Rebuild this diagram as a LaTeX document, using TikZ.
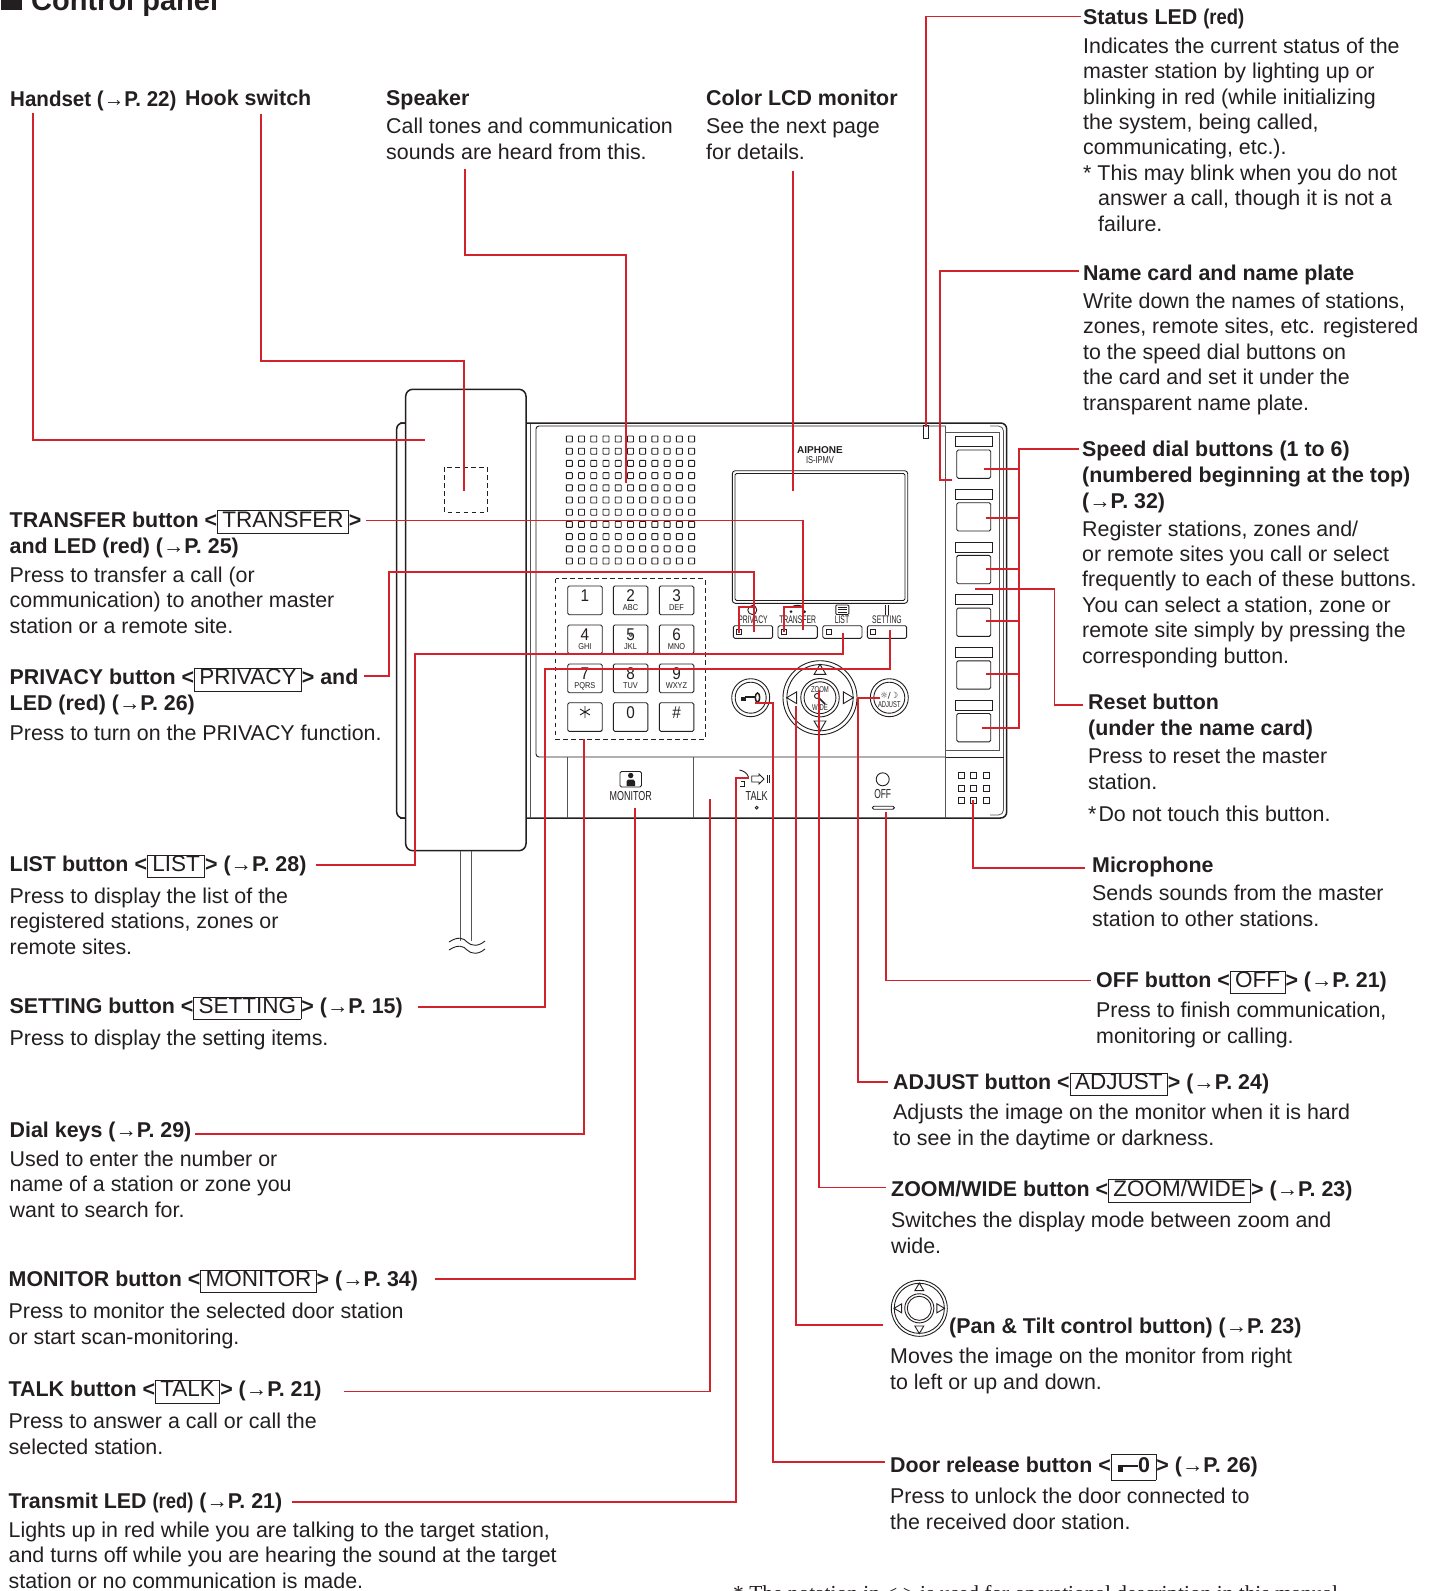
\documentclass[tikz,border=0pt]{standalone}
\usepackage{fontspec}
\usepackage{graphicx}
\setmainfont{Liberation Sans}
\newfontfamily\djfont{DejaVu Sans}
\newfontfamily\serifnote{Liberation Serif}
\definecolor{ink}{HTML}{231F20}
\definecolor{leadred}{HTML}{D2232D}
\definecolor{devgray}{HTML}{555555}
\newcommand\Ar{{\mdseries →}}
\newcommand\Nr[2][.86]{\scalebox{#1}[1]{#2}}
\newcommand\kb[1]{{\setlength\fboxsep{0pt}\setlength\fboxrule{.8pt}\fbox{\hspace{4.5pt}\mdseries\fontsize{22.5}{22.5}\selectfont\rule[-6pt]{0pt}{20pt}#1\hspace{4.5pt}}}}
\newcommand\cond[3]{\scalebox{#1}[1]{\fontsize{#2}{#2}\selectfont #3}}
\tikzset{
  lead/.style={draw=leadred,line width=1.9pt},
  dev/.style={draw=ink,line width=.9pt},
  devthin/.style={draw=devgray,line width=.8pt},
  devthick/.style={draw=ink,line width=1.5pt},
  devdash/.style={draw=ink,line width=.9pt,dash pattern=on 4.5pt off 3.5pt},
  body/.style={inner sep=0pt,anchor=base west,align=left,text=ink,font=\fontsize{21.4}{25.4}\selectfont},
  ttl/.style={inner sep=0pt,anchor=base west,align=left,text=ink,font=\fontsize{21.4}{26}\selectfont\bfseries},
  small/.style={inner sep=0pt,text=ink,anchor=base},
}
\newcommand\Key[5]{%
  \draw[dev,rounded corners=1.5pt] (#2,#3) rectangle ++(34.5,28.7);
  \node[small] (key#1) at ({#2+17.2},{#3+15.7}) {\cond{.9}{17}{#4}};
  \node[small] (sub#1) at ({#2+17.2},{#3+24.7}) {\cond{.87}{8.5}{#5}};
}
\newcommand\Ring[3]{%
  \draw[dev] (#1,#2) circle[radius=#3*1pt];
  \draw[dev] (#1,#2) circle[radius=#3*.895pt];
  \draw[dev] (#1,#2) circle[radius=#3*.52pt];
  \draw[dev] (#1,#2) circle[radius=#3*.43pt];
  \draw[dev] ({#1-#3*.16},{#2-#3*.63}) -- ({#1+#3*.16},{#2-#3*.63}) -- ({#1},{#2-#3*.9}) -- cycle;
  \draw[dev] ({#1-#3*.16},{#2+#3*.63}) -- ({#1+#3*.16},{#2+#3*.63}) -- ({#1},{#2+#3*.9}) -- cycle;
  \draw[dev] ({#1-#3*.63},{#2-#3*.16}) -- ({#1-#3*.63},{#2+#3*.16}) -- ({#1-#3*.9},{#2}) -- cycle;
  \draw[dev] ({#1+#3*.63},{#2-#3*.16}) -- ({#1+#3*.63},{#2+#3*.16}) -- ({#1+#3*.9},{#2}) -- cycle;
}
\begin{document}
\begin{tikzpicture}[x=1pt,y=-1pt]
\clip (0,0) rectangle (1432,1591);
\fill[white] (0,0) rectangle (1432,1591);
%% ---------- device ----------
\draw[devthick,rounded corners=6pt] (400,423) -- (1006.7,423) -- (1006.7,818) -- (400,818);
\draw[devthick,rounded corners=6pt] (410,423) -- (396.7,423) -- (396.7,818) -- (410,818);
\draw[devthin,rounded corners=5pt] (990,426) -- (1003.5,426) -- (1003.5,815) -- (990,815);
\draw[devthin] (530.7,424) -- (530.7,818);
\draw[dev,rounded corners=3pt] (945.7,426) -- (536,426) -- (536,757) -- (945.7,757);
\draw[devthin] (945.7,426) -- (945.7,818);
\draw[devthin] (567.7,757) -- (567.7,818);
\draw[devthin] (693.7,757) -- (693.7,818);
\draw[dev] (945.7,757) -- (1003.5,757);
\draw[devthin] (945.7,432.7) -- (999.3,432.7) -- (999.3,750) -- (945.7,750);
% handset
\draw[devthick,fill=white,rounded corners=7pt] (405.7,389.3) rectangle (526,850.7);
\draw[devthin] (460,851) -- (460,941);
\draw[devthin] (471.7,851) -- (471.7,941);
\draw[dev] (449,942) .. controls (458,936) and (464,938) .. (467,942) .. controls (471,946) and (478,947) .. (485,941);
\draw[dev] (449,950) .. controls (458,944) and (464,946) .. (467,950) .. controls (471,954) and (478,955) .. (485,949);
\draw[devdash] (444.3,467.3) rectangle (487.3,512);
% speaker
\foreach \i in {0,...,10} \foreach \j in {0,...,10}
  \draw[dev,rounded corners=.6pt] ({566.3+\i*12.23},{436+\j*12.2}) rectangle ++(6,6);
% keypad
\draw[devdash] (555.7,578.7) rectangle (705,739);
\Key{1}{567.7}{586}{1}{}
\Key{2}{613.3}{586}{2}{ABC}
\Key{3}{659.3}{586}{3}{DEF}
\Key{4}{567.7}{625}{4}{GHI}
\Key{5}{613.3}{625}{5}{JKL}
\Key{6}{659.3}{625}{6}{MNO}
\Key{7}{567.7}{664}{7}{PQRS}
\Key{8}{613.3}{664}{8}{TUV}
\Key{9}{659.3}{664}{9}{WXYZ}
\Key{star}{567.7}{702.7}{}{}
\Key{0}{613.3}{702.7}{0}{}
\Key{h}{659.3}{702.7}{\#}{}
\draw[dev] (585,706) -- (585,718) (580,709) -- (590,715) (590,709) -- (580,715);
\draw[devthin] (630.7,635) circle[radius=1.5pt];
% LCD
\draw[dev,rounded corners=3pt] (732.3,470.7) rectangle (907.7,603.3);
\draw[dev,rounded corners=1.5pt] (735,473.5) rectangle (905,600.5);
\node[small] (brand) at (820,453.3) {\fontsize{10}{10}\selectfont\bfseries AIPHONE};
\node[small] (model) at (820,463) {\cond{.75}{10}{IS-IPMV}};
% status LED
\draw[dev] (923.3,425) rectangle (928.7,438);
% function buttons
\foreach \x in {733.3,778,822.7,867.3}{
  \draw[dev,rounded corners=1.5pt] (\x,625.7) rectangle ++(39.3,12.6);
  \draw[dev] ({\x+3.5},629.5) rectangle ++(5,5);
}
\node[small] (fprivacy) at (753,623) {\cond{.62}{11}{PRIVACY}};
\node[small] (ftransfer) at (797.7,623) {\cond{.62}{11}{TRANSFER}};
\node[small] (flist) at (842,623) {\cond{.62}{11}{LIST}};
\node[small] (fsetting) at (887,623) {\cond{.62}{11}{SETTING}};
\draw[dev] (752.3,610) circle[radius=4.5pt];
\fill[ink] (791,611.7) circle[radius=1.5pt] (804.7,611.7) circle[radius=1.5pt];
\draw[dev] (791,607) .. controls (796,604.5) and (800,605) .. (804,607);
\draw[dev,rounded corners=1pt] (835.8,605) rectangle ++(13,9.5);
\draw[dev] (837.5,607.5) -- (847,607.5) (837.5,609.7) -- (847,609.7) (837.5,612) -- (847,612);
\draw[dev] (885,605) -- (885,614.5) (888.5,605) -- (888.5,614.5);
% right plates
\foreach \k in {0,...,5}{
  \draw[dev] (955.3,{436.7+\k*52.7}) rectangle ++(37,10);
  \draw[dev,rounded corners=1.5pt] (956.7,{450+\k*52.7}) rectangle ++(34,28.3);
}
% centre ring
\Ring{820}{697.7}{37}
\node[small] (fzoom) at (820,692) {\cond{.7}{8.5}{ZOOM}};
\node[small] (fwide) at (820,710) {\cond{.7}{8.5}{WIDE}};
\draw[dev] (817,696) circle[radius=2.5pt];
\draw[draw=ink,line width=1.5pt] (819,698) -- (825,704);
% door release
\draw[dev] (750.7,697.7) circle[radius=19pt];
\draw[dev] (750.7,697.7) circle[radius=15.5pt];
\fill[ink] (741,696.5) rectangle (745.5,700.5);
\draw[devthick] (745,697) -- (755,697);
\draw[devthick] (757.5,697.5) ellipse[x radius=2.2pt,y radius=4.5pt];
% adjust
\draw[dev] (889.3,697.7) circle[radius=19pt];
\draw[dev] (889.3,697.7) circle[radius=15.5pt];
\node[small] (fsun) at (889.3,698) {\fontsize{8.5}{8.5}\djfont ☼/☽};
\node[small] (fadjust) at (889.3,707) {\cond{.68}{8.5}{ADJUST}};
% monitor
\draw[dev,rounded corners=1.5pt] (620,771.5) rectangle (641.5,787);
\fill[ink] (630.7,775.5) circle[radius=2.7pt];
\fill[ink] (626.5,786) -- (626.5,781.5) -- (628,779.5) -- (633.5,779.5) -- (635,781.5) -- (635,786) -- cycle;
\node[small] (fmonitor) at (630.7,800) {\cond{.69}{13}{MONITOR}};
% talk
\node[small] (ftalk) at (756.7,800) {\cond{.7}{13}{TALK}};
\draw[dev] (756.7,807.7) circle[radius=1.4pt];
\draw[dev] (739.5,770) .. controls (744,771) and (747,773) .. (748.5,777);
\draw[dev] (741,781) -- (744,781) -- (744,786) -- (740,786);
\draw[dev] (751.7,776) -- (759,776) -- (759,774) -- (764,779) -- (759,784) -- (759,782) -- (751.7,782) -- cycle;
\draw[dev] (767,775) -- (767,783) (769.5,775) -- (769.5,783);
\draw[draw=ink,line width=1.5pt] (773,772) -- (773,786);
% off
\draw[dev] (882.7,779.3) circle[radius=6.5pt];
\node[small] (foff) at (882.7,798.5) {\cond{.65}{13}{OFF}};
\draw[dev,rounded corners=1.4pt] (872.3,806.2) rectangle (894.3,809.2);
% microphone
\foreach \x in {958.7,970.7,983} \foreach \y in {772.7,785,797}
  \draw[dev] (\x,\y) rectangle ++(6,6);
%% ---------- pan tilt legend ----------
\Ring{919.3}{1308.3}{28}
%% ---------- connectors ----------
\coordinate (handsetS) at (33,113); \coordinate (handsetE) at (425,440.3);
\draw[lead] (handsetS) |- (handsetE);
\coordinate (hookS) at (261,114); \coordinate (hookE) at (464,490.7);
\draw[lead] (hookS) -- (hookS |- 0,361) -| (hookE);
\coordinate (speakerS) at (465,168.5); \coordinate (speakerE) at (626,483);
\draw[lead] (speakerS) -- (speakerS |- 0,254.7) -| (speakerE);
\coordinate (lcdS) at (793.3,170.5); \coordinate (lcdE) at (793.3,491);
\draw[lead] (lcdS) -- (lcdE);
\coordinate (statusS) at (1081,16.5); \coordinate (statusE) at (926,426.7);
\draw[lead] (statusS) -| (statusE);
\coordinate (cardS) at (1079,271); \coordinate (cardE) at (952,480);
\draw[lead] (cardS) -- (940,271) |- (cardE);
\coordinate (speedS) at (1079,448.6); \coordinate (speed6) at (981.7,727.7);
\draw[lead] (speedS) -- (1019.3,448.6) |- (speed6);
\coordinate (speed1) at (984.3,468.7); \coordinate (speed2) at (986,517.7); \coordinate (speed3) at (986,569.3); \coordinate (speed4) at (986,621); \coordinate (speed5) at (986,674.3);
\foreach \n in {speed1,speed2,speed3,speed4,speed5} \draw[lead] (1019.3,0 |- \n) -- (\n);
\coordinate (resetS) at (1083,704.6); \coordinate (resetE) at (975.3,589);
\draw[lead] (resetS) -- (1054.5,704.6) |- (resetE);
\coordinate (micS) at (1085,868); \coordinate (micE) at (973.3,800);
\draw[lead] (micS) -| (micE);
\coordinate (offS) at (1091,980.5); \coordinate (offE) at (886,811.7);
\draw[lead] (offS) -| (offE);
\coordinate (adjS) at (888,1082); \coordinate (adjE) at (880,698.3);
\draw[lead] (adjS) -- (858,1082) |- (adjE);
\coordinate (zoomS) at (886,1187.5); \coordinate (zoomE) at (819.3,690);
\draw[lead] (zoomS) -| (zoomE);
\coordinate (panS) at (883,1325); \coordinate (panE) at (795.7,706);
\draw[lead] (panS) -| (panE);
\coordinate (doorS) at (885,1462.3); \coordinate (doorE) at (755,702.7);
\draw[lead] (doorS) -- (773.3,1462.3) |- (doorE);
\coordinate (txS) at (292,1502); \coordinate (txE) at (749,778.3);
\draw[lead] (txS) -- (735.7,1502) |- (txE);
\coordinate (talkS) at (344,1391.5); \coordinate (talkE) at (710,799.3);
\draw[lead] (talkS) -| (talkE);
\coordinate (monS) at (435,1279); \coordinate (monE) at (635.3,807.7);
\draw[lead] (monS) -| (monE);
\coordinate (dialS) at (195,1133.7); \coordinate (dialE) at (583.7,739);
\draw[lead] (dialS) -| (dialE);
\coordinate (setS) at (418,1007); \coordinate (setE) at (890,630);
\draw[lead] (setS) -- (544.7,1007) |- (890,669.3) -- (setE);
\coordinate (listS) at (315.6,864.7); \coordinate (listE) at (842.7,633.3);
\draw[lead] (listS) -- (415,864.7) |- (842.7,654) -- (listE);
\coordinate (privS) at (364.4,676); \coordinate (privE) at (754.3,632.3); \coordinate (privL) at (739.3,632.7);
\draw[lead] (privS) -- (389,676) |- (754.3,572.3) -- (privE);
\draw[lead] (754.3,606.7) -| (privL);
\coordinate (transS) at (366.4,520.5); \coordinate (transE) at (803.3,630); \coordinate (transL) at (784,632);
\draw[lead] (transS) -| (transE);
\draw[lead] (803.3,606.7) -| (transL);
%% ---------- labels ----------
\fill[ink] (1,-8) rectangle (22,10);
\node[ttl,font=\fontsize{29}{29}\selectfont\bfseries] (title) at (31,10) {Control panel};
\node[ttl] (handsetT) at (10,106.7) {\Nr[.96]{Handset (\Ar P. 22)}};
\node[ttl] (hookT) at (185,105) {Hook switch};
\node[ttl] (speakerT) at (386,105) {Speaker};
\node[body] (speakerD) at (386,159) {Call tones and communication\\sounds are heard from this.};
\node[ttl] (lcdT) at (706,105) {Color LCD monitor};
\node[body] (lcdD) at (706,159) {See the next page\\for details.};
\node[ttl] (statusT) at (1083,24.5) {Status LED \Nr{(red)}};
\node[body] (statusD) at (1083,231) {Indicates the current status of the\\master station by lighting up or\\blinking in red (while initializing\\the system, being called,\\communicating, etc.).\\* This may blink when you do not\\\hspace*{15pt}answer a call, though it is not a\\\hspace*{15pt}failure.};
\node[ttl] (cardT) at (1083,280) {Name card and name plate};
\node[body] (cardD) at (1083,410) {Write down the names of stations,\\zones, remote sites, etc. registered\\to the speed dial buttons on\\the card and set it under the\\transparent name plate.};
\node[ttl] (speedT) at (1082,508) {Speed dial buttons (1 to 6)\\(numbered beginning at the top)\\(\Ar P. 32)};
\node[body] (speedD) at (1082,663) {Register stations, zones and/\\or remote sites you call or select\\frequently to each of these buttons.\\You can select a station, zone or\\remote site simply by pressing the\\corresponding button.};
\node[ttl] (resetT) at (1088,735) {Reset button\\(under the name card)};
\node[body] (resetD) at (1088,789) {Press to reset the master\\station.};
\node[body] (resetN) at (1088,821) {*\hspace{2pt}Do not touch this button.};
\node[ttl] (micT) at (1092,872) {Microphone};
\node[body] (micD) at (1092,926) {Sends sounds from the master\\station to other stations.};
\node[ttl] (offT) at (1096,987) {OFF button <\kb{OFF}> (\Ar P. 21)};
\node[body] (offD) at (1096,1043) {Press to finish communication,\\monitoring or calling.};
\node[ttl] (adjT) at (893,1089) {ADJUST button <\kb{ADJUST}> (\Ar P. 24)};
\node[body] (adjD) at (893,1145) {Adjusts the image on the monitor when it is hard\\to see in the daytime or darkness.};
\node[ttl] (zoomT) at (891,1196) {ZOOM/WIDE button <\kb{ZOOM/WIDE}> (\Ar P. 23)};
\node[body] (zoomD) at (891,1253) {Switches the display mode between zoom and\\wide.};
\node[ttl] (panT) at (949,1333) {(Pan \& Tilt control button) (\Ar P. 23)};
\node[body] (panD) at (890,1389) {Moves the image on the monitor from right\\to left or up and down.};
\node[ttl] (doorT) at (890,1472) {Door release button <\fbox{\hspace{4pt}\rule[0pt]{5pt}{7pt}\rule[5pt]{15pt}{2pt}0\hspace{3pt}\rule[-5pt]{0pt}{20pt}}> (\Ar P. 26)};
\node[body] (doorD) at (890,1529) {Press to unlock the door connected to\\the received door station.};
\node[inner sep=0pt,anchor=base west,text=ink] (note) at (733,1600) {\serifnote\fontsize{21.4}{25}\selectfont * The notation in < > is used for operational description in this manual.};
\node[ttl] (transT) at (9.5,553) {TRANSFER button <\kb{TRANSFER}>\\and LED (red) (\Ar P. 25)};
\node[body] (transD) at (9.5,633) {Press to transfer a call (or\\communication) to another master\\station or a remote site.};
\node[ttl] (privT) at (9.5,710.5) {PRIVACY button <\kb{PRIVACY}> and\\LED (red) (\Ar P. 26)};
\node[body] (privD) at (9.5,740) {Press to turn on the PRIVACY function.};
\node[ttl] (listT) at (9.5,871) {LIST button <\kb{LIST}> (\Ar P. 28)};
\node[body] (listD) at (9.5,954) {Press to display the list of the\\registered stations, zones or\\remote sites.};
\node[ttl] (setT) at (9.5,1013) {SETTING button <\kb{SETTING}> (\Ar P. 15)};
\node[body] (setD) at (9.5,1045) {Press to display the setting items.};
\node[ttl] (dialT) at (9.5,1137) {Dial keys (\Ar P. 29)};
\node[body] (dialD) at (9.5,1217) {Used to enter the number or\\name of a station or zone you\\want to search for.};
\node[ttl] (monT) at (8.5,1286) {MONITOR button <\kb{MONITOR}> (\Ar P. 34)};
\node[body] (monD) at (8.5,1344) {Press to monitor the selected door station\\or start scan-monitoring.};
\node[ttl] (talkT) at (8.5,1396.5) {TALK button <\kb{TALK}> (\Ar P. 21)};
\node[body] (talkD) at (8.5,1454) {Press to answer a call or call the\\selected station.};
\node[ttl] (txT) at (8.5,1508) {Transmit LED \Nr{(red)} (\Ar P. 21)};
\node[body] (txD) at (8.5,1588) {Lights up in red while you are talking to the target station,\\and turns off while you are hearing the sound at the target\\station or no communication is made.};
\end{tikzpicture}
\end{document}
